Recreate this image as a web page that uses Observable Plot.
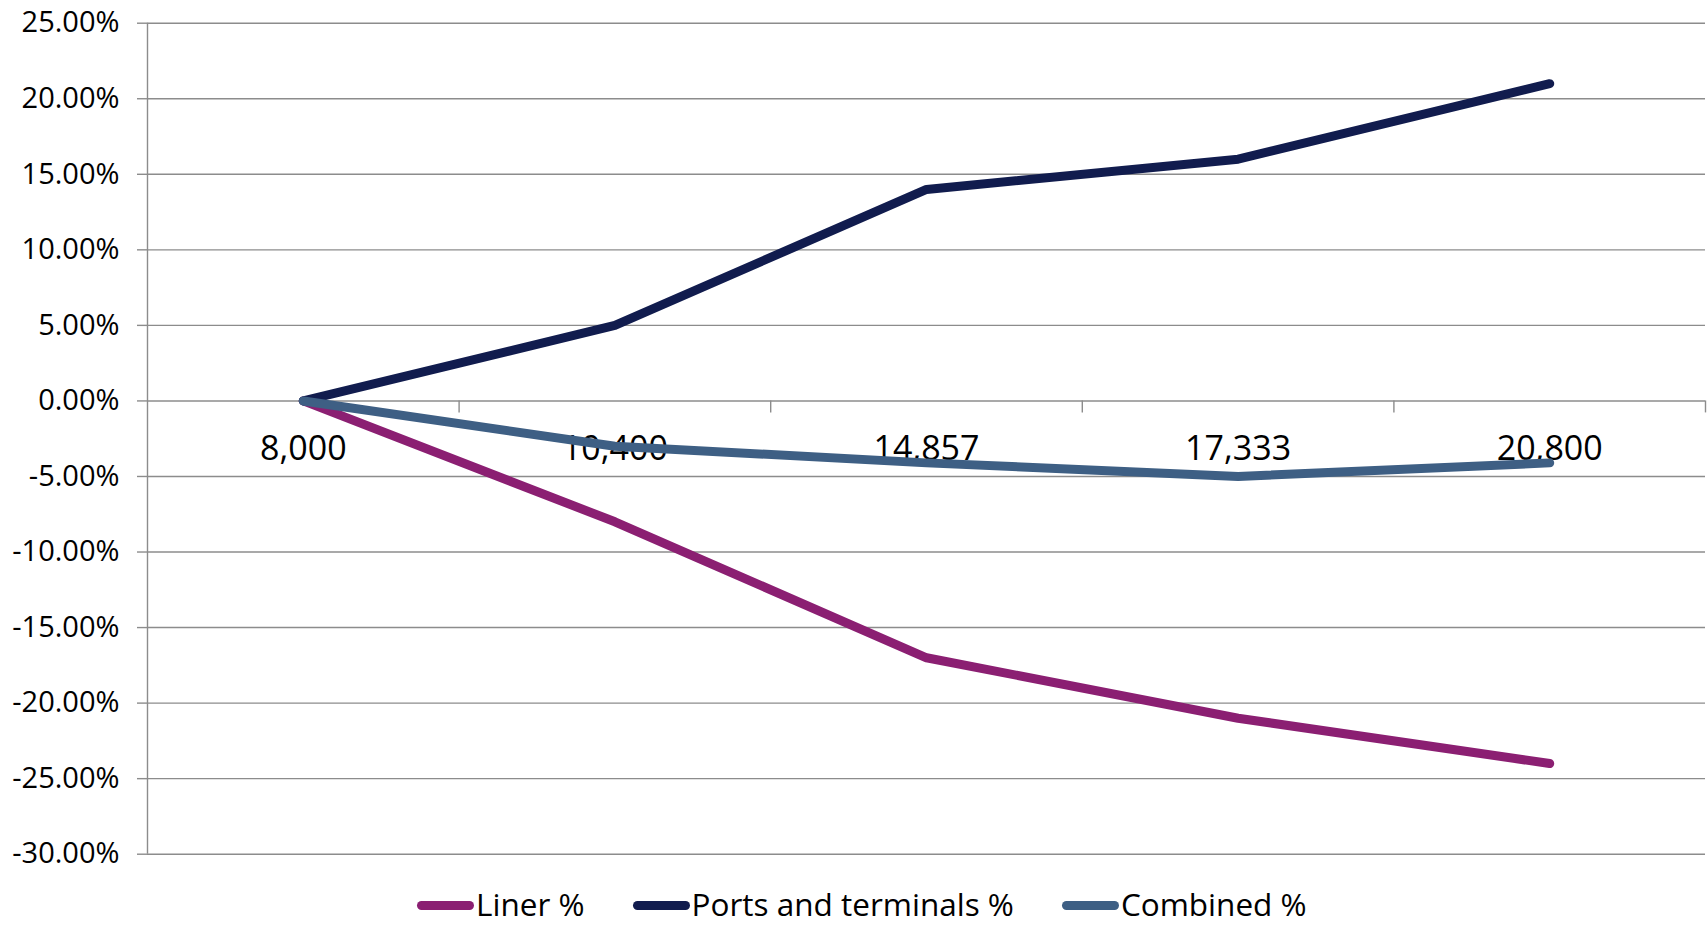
<!DOCTYPE html>
<html>
<head>
<meta charset="utf-8">
<script src="https://cdn.jsdelivr.net/npm/d3@7"></script>
<script src="https://cdn.jsdelivr.net/npm/@observablehq/plot@0.6"></script>
<style>
  html, body { margin: 0; padding: 0; background: #fff; }
  body { width: 1708px; height: 931px; overflow: hidden; font-family: "Open Sans", sans-serif; }
  #legend { position: relative; height: 44px; margin-top: 2px; display: flex; align-items: center; padding-left: 417px; font-size: 31.5px; line-height: 1; color: #000; }
  .item { display: flex; align-items: center; margin-right: 48px; }
  .sw { width: 57px; height: 9px; border-radius: 4.5px; margin-right: 2px; margin-top: 3px; }
</style>
</head>
<body>
<div id="chart"></div>
<div id="legend"></div>
<script>
const categories = ["8,000", "10,400", "14,857", "17,333", "20,800"];
const linerPct = [0, -8, -17, -21, -24];
const portsPct = [0, 5, 14, 16, 21];
const combinedPct = [0, -3, -4.1, -5, -4.1];
const seriesNames = ["Liner %", "Ports and terminals %", "Combined %"];
const seriesColors = ["#8B1F72", "#111C4E", "#3E5F84"];
const yTicks = d3.range(-30, 26, 5);

const seriesValues = [linerPct, portsPct, combinedPct];
const rows = [];
seriesNames.forEach((name, s) => {
  categories.forEach((c, i) => rows.push({series: name, idx: i, cat: c, value: seriesValues[s][i]}));
});
const idx = categories.map((c, i) => i);
const boundaries = idx.map(i => i + 0.5);

const gridColor = "#8c8c8c";

const chart = Plot.plot({
  width: 1708,
  height: 880,
  marginLeft: 147,
  marginRight: 3,
  marginTop: 22.7,
  marginBottom: 26.3,
  style: {fontFamily: "'Open Sans', sans-serif", fontSize: "28px", color: "#000", background: "#fff"},
  x: {type: "linear", domain: [-0.5, categories.length - 0.5]},
  y: {domain: [-30, 25]},
  color: {domain: seriesNames, range: seriesColors},
  marks: [
    Plot.ruleY(yTicks, {stroke: gridColor, strokeWidth: 1.4}),
    Plot.ruleX([-0.5], {stroke: gridColor, strokeWidth: 1.4}),
    Plot.ruleX(boundaries, {x: d => d, y1: 0, y2: 0, insetBottom: -12, stroke: gridColor, strokeWidth: 1.4}),
    Plot.axisY({ticks: yTicks, tickSize: 10, tickPadding: 18, tickFormat: d => d.toFixed(2) + "%", stroke: gridColor, strokeWidth: 1.4, strokeOpacity: 1, fontSize: 29, fill: "#000", label: null}),
    Plot.axisX({ticks: [], label: null}),
    Plot.text(idx, {x: d => d, y: 0, dy: 48, text: d => categories[d], fontSize: 34, fill: "#000"}),
    Plot.line(rows, {x: "idx", y: "value", z: "series", stroke: "series", strokeWidth: 9, strokeLinecap: "round", strokeLinejoin: "round"})
  ]
});
document.getElementById("chart").appendChild(chart);

const legend = document.getElementById("legend");
seriesNames.forEach((n, i) => {
  const item = document.createElement("div");
  item.className = "item";
  const sw = document.createElement("span");
  sw.className = "sw";
  sw.style.background = seriesColors[i];
  const t = document.createElement("span");
  t.textContent = n;
  item.appendChild(sw);
  item.appendChild(t);
  legend.appendChild(item);
});
</script>
</body>
</html>
